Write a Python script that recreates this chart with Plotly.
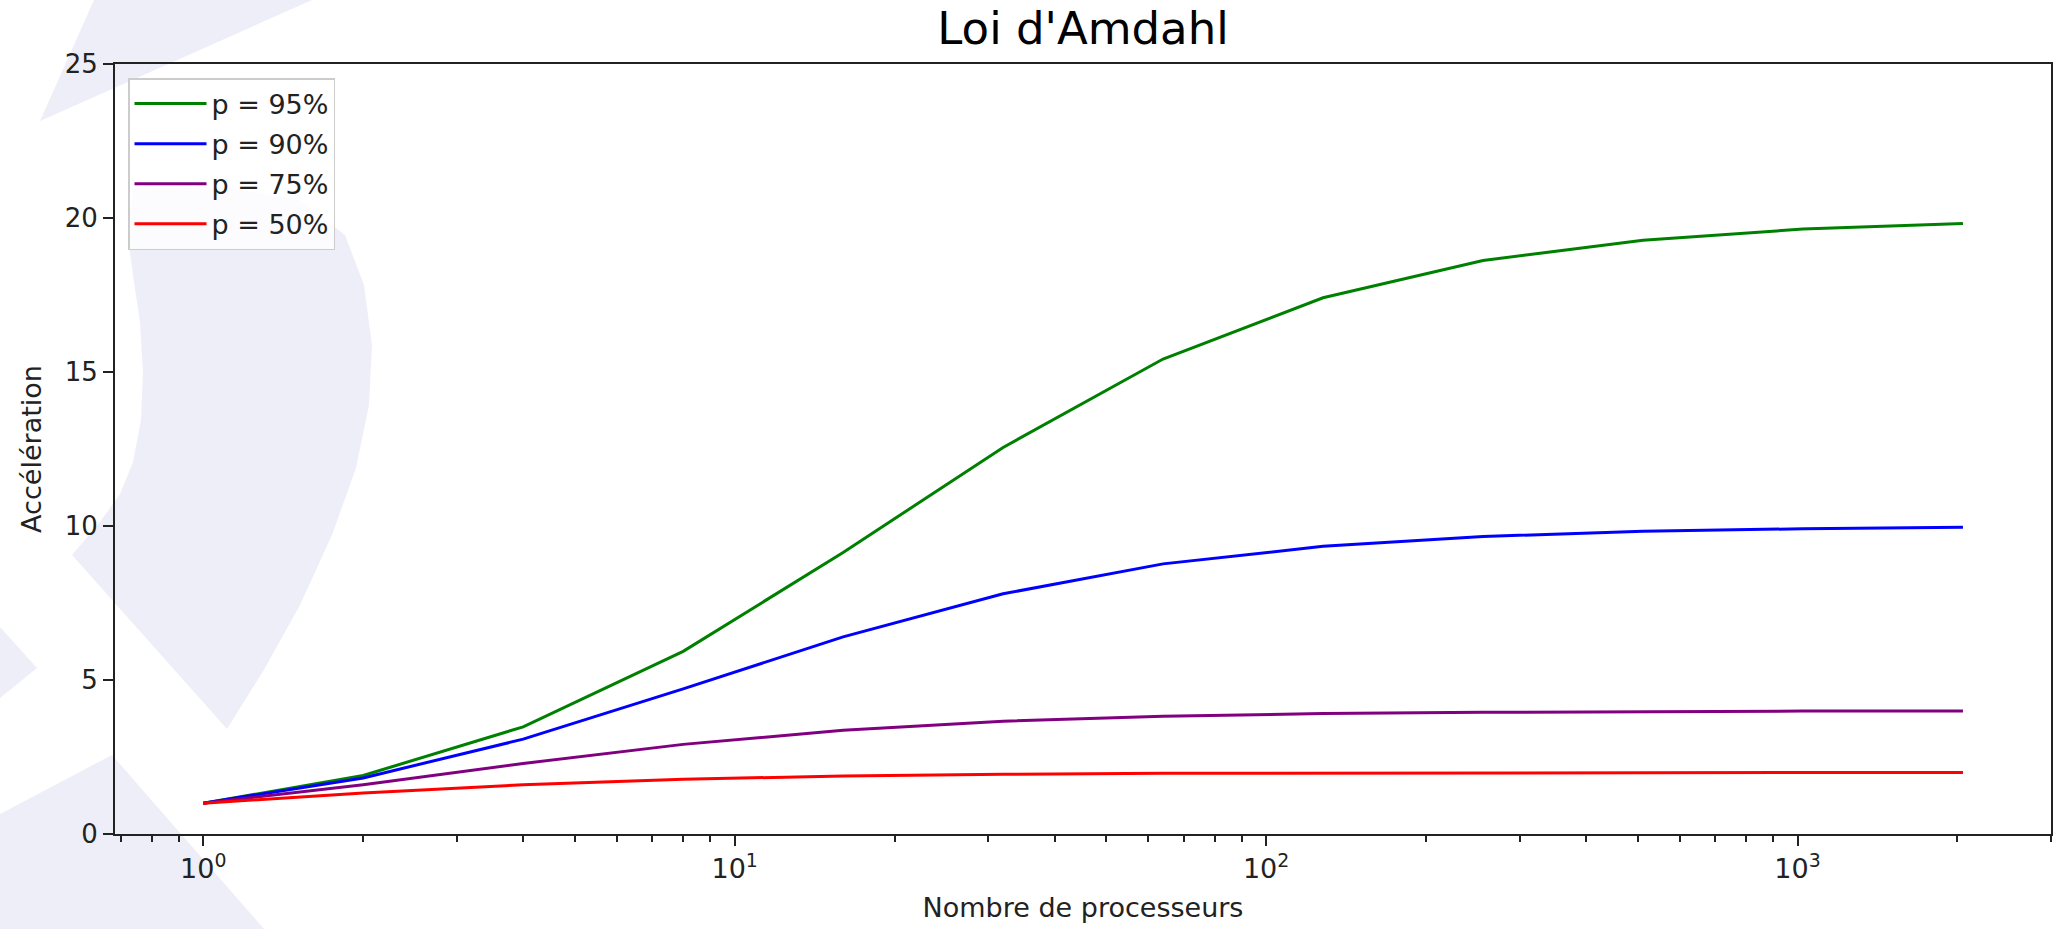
import plotly.graph_objects as go

# ---- data ----
processeurs = [1, 2, 4, 8, 16, 32, 64, 128, 256, 512, 1024, 2048]
acc_95 = [1.00, 1.90, 3.48, 5.93, 9.14, 12.55, 15.42, 17.41, 18.62, 19.28, 19.64, 19.82]
acc_90 = [1.00, 1.82, 3.08, 4.71, 6.40, 7.80, 8.77, 9.34, 9.66, 9.83, 9.91, 9.96]
acc_75 = [1.00, 1.60, 2.29, 2.91, 3.37, 3.66, 3.82, 3.91, 3.95, 3.98, 3.99, 3.99]
acc_50 = [1.00, 1.33, 1.60, 1.78, 1.88, 1.94, 1.97, 1.98, 1.99, 2.00, 2.00, 2.00]
noms = ["p = 95%", "p = 90%", "p = 75%", "p = 50%"]
couleurs = ["green", "blue", "purple", "red"]

y_ticks = [0, 5, 10, 15, 20, 25]
x_ticks = [1, 10, 100, 1000]
x_ticktext = ["10<sup>0</sup>", "10<sup>1</sup>", "10<sup>2</sup>", "10<sup>3</sup>"]

# ---- layout geometry (pixels) ----
W, H = 2065, 929
L, R, T, B = 115, 2051, 64, 834
FONT = "DejaVu Sans"
AX = "#222222"

fig = go.Figure()
for i, (serie, nom, coul) in enumerate(zip([acc_95, acc_90, acc_75, acc_50], noms, couleurs)):
    fig.add_trace(go.Scatter(x=processeurs, y=serie, mode="lines", name=nom,
                             legendgroup=f"g{i}",
                             line=dict(color=coul, width=3)))

# faint background watermark (decoration)
def to_paper(pts):
    s = ""
    for i, (x, y) in enumerate(pts):
        xp = (x - L) / (R - L)
        yp = (B - y) / (B - T)
        s += ("M" if i == 0 else "L") + f"{xp:.5f},{yp:.5f} "
    return s + "Z"

deco = [
    [(40, 121), (94, 0), (312, 0)],
    [(135, 185), (230, 188), (300, 200), (345, 235), (364, 285), (372, 345),
     (369, 405), (356, 468), (332, 535), (300, 605), (265, 668), (227, 729),
     (72, 555), (100, 522), (120, 494), (133, 462), (141, 420), (143, 372),
     (140, 322), (134, 282), (129, 245), (130, 210)],
    [(0, 627), (37, 668), (0, 698)],
    [(0, 814), (112, 755), (264, 929), (0, 929)],
]
for poly in deco:
    fig.add_shape(type="path", path=to_paper(poly), xref="paper", yref="paper",
                  fillcolor="rgb(238,238,249)", line=dict(width=0), layer="below")

minor_vals = [k * 10 ** d for d in range(-1, 4) for k in range(2, 10)]

fig.update_layout(
    width=W, height=H,
    margin=dict(l=L, r=W - R, t=T, b=H - B),
    paper_bgcolor="white",
    plot_bgcolor="rgba(0,0,0,0)",
    font=dict(family=FONT, size=26, color="black"),
    title=dict(text="Loi d'Amdahl", x=0.5, xanchor="center", xref="paper",
               y=1 - 28 / H, yanchor="middle", yref="container",
               font=dict(family=FONT, size=45, color="black")),
    showlegend=True,
    legend=dict(x=(128 - L) / (R - L), y=1 - (78 - T) / (B - T),
                xanchor="left", yanchor="top",
                itemwidth=72, tracegroupgap=2,
                bgcolor="rgba(255,255,255,0.8)", bordercolor="#cccccc", borderwidth=1.5,
                font=dict(family=FONT, size=27, color="#222222")),
    xaxis=dict(
        type="log", range=[-0.166, 3.477],
        tickmode="array", tickvals=x_ticks, ticktext=x_ticktext,
        ticks="outside", ticklen=10, tickwidth=2, tickcolor=AX,
        minor=dict(tickmode="array", tickvals=minor_vals, ticks="outside",
                   ticklen=6, tickwidth=1.5, tickcolor=AX, showgrid=False),
        showline=True, linecolor=AX, linewidth=2, mirror=True,
        showgrid=False, zeroline=False,
        tickfont=dict(family=FONT, size=27, color="#222222"),
        title=dict(text="Nombre de processeurs", standoff=15,
                   font=dict(family=FONT, size=27, color="#222222")),
    ),
    yaxis=dict(
        range=[0, 25], tickmode="array", tickvals=y_ticks,
        ticks="outside", ticklen=10, tickwidth=2, tickcolor=AX,
        showline=True, linecolor=AX, linewidth=2, mirror=True,
        showgrid=False, zeroline=False,
        tickfont=dict(family=FONT, size=26, color="#222222"),
        title=dict(text="Accélération", standoff=15,
                   font=dict(family=FONT, size=27, color="#222222")),
    ),
)

fig.write_html("out.html")
